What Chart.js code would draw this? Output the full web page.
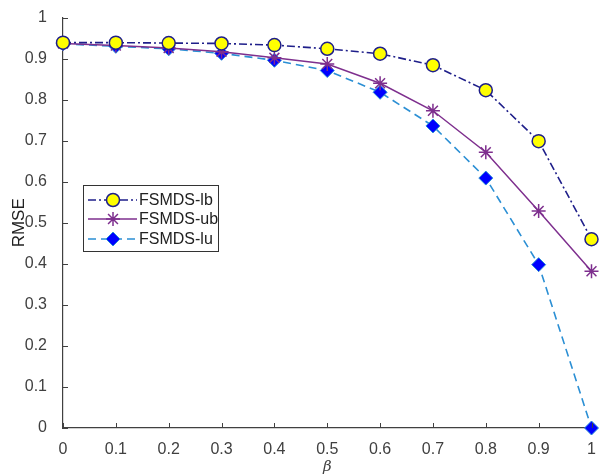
<!DOCTYPE html>
<html>
<head>
<meta charset="utf-8">
<script src="https://cdn.jsdelivr.net/npm/chart.js@4"></script>
<style>
html,body{margin:0;padding:0;background:#fff;}
#wrap{width:600px;height:476px;position:relative;}
</style>
</head>
<body>
<div id="wrap"><canvas id="c" width="600" height="476"></canvas></div>
<script>
const betas = [0, 0.1, 0.2, 0.3, 0.4, 0.5, 0.6, 0.7, 0.8, 0.9, 1.0];
const lbValues = [0.939, 0.939, 0.938, 0.937, 0.933, 0.924, 0.912, 0.884, 0.823, 0.699, 0.460];
const ubValues = [0.937, 0.932, 0.926, 0.917, 0.902, 0.887, 0.840, 0.773, 0.672, 0.529, 0.382];
const luValues = [0.936, 0.930, 0.924, 0.913, 0.896, 0.871, 0.818, 0.736, 0.609, 0.398, 0.000];
const seriesNames = ['FSMDS-lb', 'FSMDS-ub', 'FSMDS-lu'];
const yTicks = [0, 0.1, 0.2, 0.3, 0.4, 0.5, 0.6, 0.7, 0.8, 0.9, 1];

const pts = arr => betas.map((b, i) => ({x: b, y: arr[i]}));

const FONT = '"Liberation Sans", Arial, Helvetica, sans-serif';
const TXT = '#404040';

const legendPlugin = {
  id: 'matlabLegend',
  afterDraw(chart) {
    const ctx = chart.ctx;
    const bx = 83, by = 185, bw = 135, bh = 66;
    ctx.save();
    ctx.fillStyle = '#fff';
    ctx.fillRect(bx, by, bw, bh);
    ctx.strokeStyle = '#333';
    ctx.lineWidth = 1;
    ctx.strokeRect(bx + 0.5, by + 0.5, bw, bh);
    const rows = [200, 219, 239];
    chart.data.datasets.forEach((ds, i) => {
      const y = rows[i];
      ctx.save();
      ctx.strokeStyle = ds.borderColor;
      ctx.lineWidth = ds.borderWidth;
      ctx.setLineDash(ds.borderDash || []);
      ctx.beginPath();
      ctx.moveTo(88, y);
      ctx.lineTo(137, y);
      ctx.stroke();
      ctx.restore();
      ctx.save();
      ctx.fillStyle = ds.pointBackgroundColor;
      ctx.strokeStyle = ds.pointBorderColor;
      ctx.lineWidth = ds.pointBorderWidth;
      Chart.helpers.drawPoint(ctx, {pointStyle: ds.pointStyle, radius: ds.pointRadius, rotation: 0, borderWidth: ds.pointBorderWidth}, 113, y);
      ctx.restore();
      ctx.fillStyle = '#222';
      ctx.font = '16px ' + FONT;
      ctx.textBaseline = 'middle';
      ctx.textAlign = 'left';
      ctx.fillText(ds.label, 139, y + 1);
    });
    ctx.restore();
  }
};

const ticksPlugin = {
  id: 'inTicks',
  afterDraw(chart) {
    const ctx = chart.ctx;
    const xs = chart.scales.x, ys = chart.scales.y;
    const ca = chart.chartArea;
    ctx.save();
    ctx.strokeStyle = '#404040';
    ctx.lineWidth = 1;
    ctx.beginPath();
    xs.ticks.forEach(t => {
      const px = Math.round(xs.getPixelForValue(t.value)) + 0.5;
      ctx.moveTo(px, ca.bottom);
      ctx.lineTo(px, ca.bottom - 5);
    });
    ys.ticks.forEach(t => {
      const py = Math.round(ys.getPixelForValue(t.value)) + 0.5;
      ctx.moveTo(ca.left, py);
      ctx.lineTo(ca.left + 5, py);
    });
    ctx.stroke();
    ctx.restore();
  }
};

new Chart(document.getElementById('c'), {
  type: 'line',
  data: {
    datasets: [
      {
        label: seriesNames[0],
        data: pts(lbValues),
        borderColor: '#1f1f8a',
        borderWidth: 1.6,
        borderDash: [8, 3, 2, 3],
        pointStyle: 'circle',
        pointRadius: 6.5,
        pointBackgroundColor: '#ffff00',
        pointBorderColor: '#1f1f8a',
        pointBorderWidth: 1.5,
        tension: 0,
        clip: false
      },
      {
        label: seriesNames[1],
        data: pts(ubValues),
        borderColor: '#7e2f8e',
        borderWidth: 1.5,
        pointStyle: 'star',
        pointRadius: 7,
        pointBackgroundColor: '#7e2f8e',
        pointBorderColor: '#7e2f8e',
        pointBorderWidth: 1.5,
        tension: 0,
        clip: false
      },
      {
        label: seriesNames[2],
        data: pts(luValues),
        borderColor: '#2b8fd4',
        borderWidth: 1.6,
        borderDash: [8, 5],
        pointStyle: 'rectRot',
        pointRadius: 7,
        pointBackgroundColor: '#0000ff',
        pointBorderColor: '#2b8fd4',
        pointBorderWidth: 1,
        tension: 0,
        clip: false
      }
    ]
  },
  options: {
    responsive: false,
    animation: false,
    layout: {padding: {top: 8, right: 1, left: 0, bottom: 0}},
    plugins: {
      legend: {display: false},
      tooltip: {enabled: false}
    },
    scales: {
      x: {
        type: 'linear',
        min: 0, max: 1,
        afterFit(s) { s.height = 48; },
        afterBuildTicks(s) { s.ticks = betas.map(v => ({value: v})); },
        grid: {display: false},
        border: {display: true, color: '#404040', width: 1.2},
        ticks: {
          padding: 4,
          color: TXT,
          font: {family: FONT, size: 16},
          maxRotation: 0,
          callback: v => String(Number(v.toFixed(1)))
        },
        title: {
          display: true,
          text: 'β',
          color: TXT,
          font: {family: '"DejaVu Serif", serif', size: 15, style: 'italic'},
          padding: {top: 0, bottom: 0}
        }
      },
      y: {
        min: 0, max: 1,
        afterFit(s) { s.width = 63; },
        afterBuildTicks(s) { s.ticks = yTicks.map(v => ({value: v})); },
        grid: {display: false},
        border: {display: true, color: '#404040', width: 1.2},
        ticks: {
          padding: 8,
          color: TXT,
          font: {family: FONT, size: 16},
          callback: v => String(Number(v.toFixed(1)))
        },
        title: {
          display: true,
          text: 'RMSE',
          color: '#222',
          font: {family: FONT, size: 17},
          padding: {top: 9, bottom: 0}
        }
      }
    }
  },
  plugins: [legendPlugin, ticksPlugin]
});
</script>
</body>
</html>
